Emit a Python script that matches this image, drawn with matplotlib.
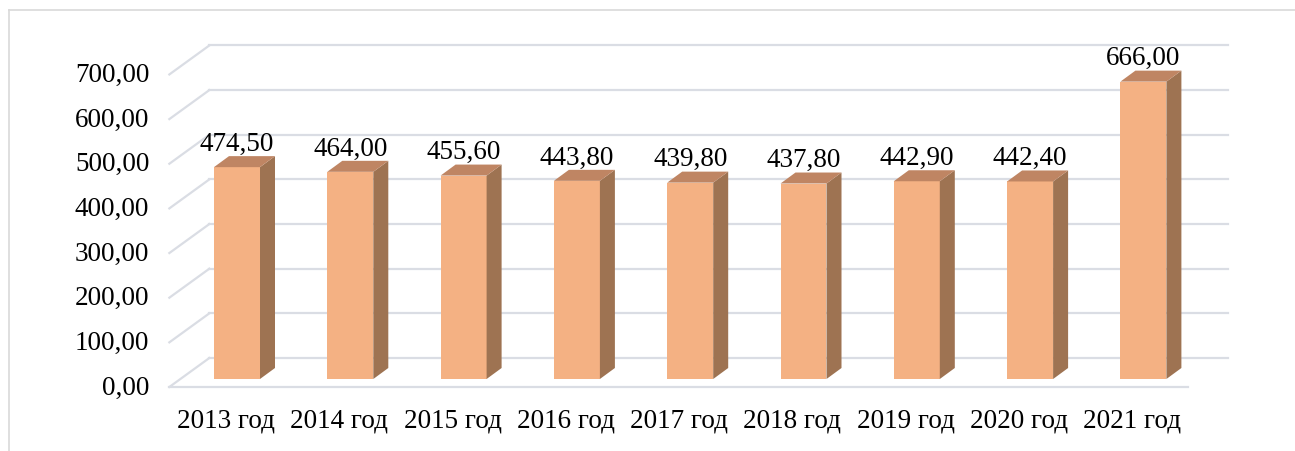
import numpy as np
import matplotlib.pyplot as plt
from matplotlib.patches import Polygon
from matplotlib.lines import Line2D

years = ['2013 год', '2014 год', '2015 год', '2016 год', '2017 год',
         '2018 год', '2019 год', '2020 год', '2021 год']
values = [474.50, 464.00, 455.60, 443.80, 439.80, 437.80, 442.90, 442.40, 666.00]
yticks = [0, 100, 200, 300, 400, 500, 600, 700]

plt.rcParams['font.family'] = ['Liberation Serif', 'DejaVu Serif']

W, H = 1295, 452
fig = plt.figure(figsize=(W / 100, H / 100), dpi=100)
ax = fig.add_axes([0, 0, 1, 1])

# pixel scale of the chart (bar front plane)
px_x = 113.3   # px per category
px_y = 0.4465  # px per unit
x0_px, y0_px = 237, 380
ax.set_xlim(-x0_px / px_x, (W - x0_px) / px_x)
ax.set_ylim((y0_px - H) / px_y, y0_px / px_y)
ax.axis('off')

def off(dx, dy):
    # pixel shift -> data shift
    return dx / px_x, -dy / px_y

fx, fy = off(-11, 8)      # front edge of floor
bx, by = off(29, -21)     # back wall
dx, dy = off(15, -11)     # bar depth

grid_c = '#dadde4'
x = np.arange(len(values))
left_front = fx - 0.5
left_back = left_front + 40 / px_x
right_back = x[-1] + 0.745

for v in yticks:
    ax.plot([left_back, right_back], [v + by, v + by], color=grid_c, lw=1.6, zorder=1)
    ax.plot([left_front, left_back], [v + fy, v + by], color=grid_c, lw=1.6, zorder=1)
    ax.text(left_front - 20 / px_x, v + fy, f'{v:.2f}'.replace('.', ','),
            ha='right', va='center', fontsize=19.5)
ax.plot([left_front, right_back - 40 / px_x], [fy, fy], color=grid_c, lw=1.6, zorder=1)

bw = 0.406
front_c = '#f4b183'
side_c = '#9e7352'
top_c = '#bf8563'
ax.bar(x, values, width=bw, color=front_c, zorder=3)
for xi, v in zip(x, values):
    r = xi + bw / 2
    l = xi - bw / 2
    ax.add_patch(Polygon([(r, 0), (r + dx, dy), (r + dx, v + dy), (r, v)],
                         closed=True, color=side_c, zorder=3, lw=0))
    ax.add_patch(Polygon([(l, v), (l + dx, v + dy), (r + dx, v + dy), (r, v)],
                         closed=True, color=top_c, zorder=3, lw=0))
    ax.text(xi, v + 39, f'{v:.2f}'.replace('.', ','), ha='center', va='baseline',
            fontsize=19.5, zorder=4)

for xi, lab in zip(x, years):
    ax.text(xi + fx, (y0_px - 428) / px_y, lab, ha='center', va='baseline', fontsize=19.5)

# outer frame
fig.add_artist(Line2D([9 / W, 1], [1 - 11 / H, 1 - 11 / H], color='#d9d9d9', lw=1.2))
fig.add_artist(Line2D([9 / W, 9 / W], [0, 1 - 11 / H], color='#d9d9d9', lw=1.2))

fig.savefig('out.png', dpi=100, facecolor='white')
